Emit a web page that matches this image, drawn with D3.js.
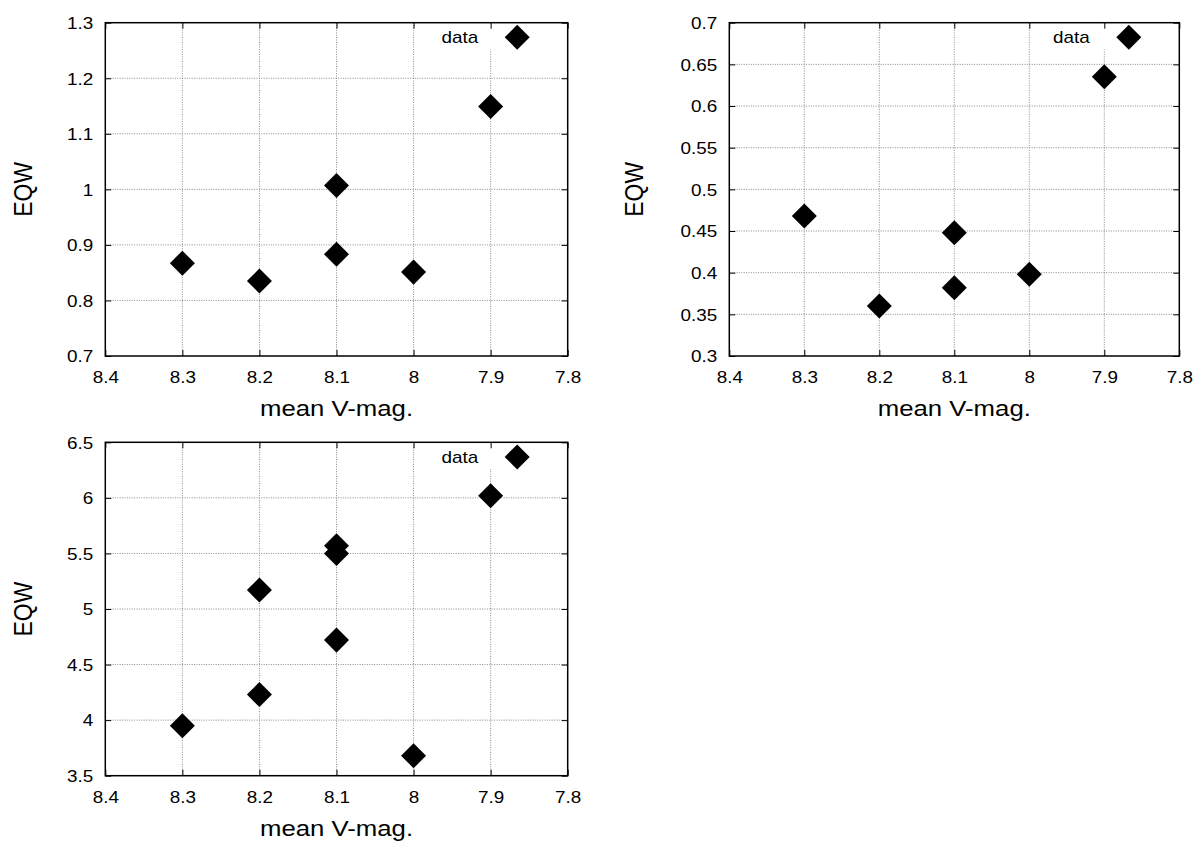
<!DOCTYPE html>
<html lang="en">
<head>
<meta charset="UTF-8">
<title>EQW vs mean V-mag.</title>
<script src="https://d3js.org/d3.v7.min.js"></script>
<style>
    body { margin: 0; background: #fff; }
    svg { display: block; font-family: "Liberation Sans", Arial, sans-serif; }
</style>
</head>
<body>
<script>
// tick labels
const magTicks = [8.4, 8.3, 8.2, 8.1, 8.0, 7.9, 7.8];
const eqwTicksA = [0.7, 0.8, 0.9, 1.0, 1.1, 1.2, 1.3];
const eqwTicksB = [0.3, 0.35, 0.4, 0.45, 0.5, 0.55, 0.6, 0.65, 0.7];
const eqwTicksC = [3.5, 4, 4.5, 5, 5.5, 6, 6.5];

// series values
const magA = [8.3, 8.2, 8.1, 8.1, 8.0, 7.9];
const eqwA = [0.867, 0.835, 1.007, 0.883, 0.851, 1.149];
const magB = [8.3, 8.2, 8.1, 8.1, 8.0, 7.9];
const eqwB = [0.468, 0.360, 0.448, 0.382, 0.398, 0.635];
const magC = [8.3, 8.2, 8.2, 8.1, 8.1, 8.1, 8.0, 7.9];
const eqwC = [3.95, 5.17, 4.23, 5.57, 5.50, 4.72, 3.68, 6.02];

const xLabel = "mean V-mag.";
const yLabel = "EQW";
const legendLabel = "data";

// layout of the three panels
const panels = [
    { left: 105.3, top: 22.7, w: 462.4, h: 333.3, mags: magA, eqws: eqwA, yTicks: eqwTicksA, ylab: 73.6 },
    { left: 729.3, top: 22.7, w: 450, h: 333.3, mags: magB, eqws: eqwB, yTicks: eqwTicksB, ylab: 86 },
    { left: 105.3, top: 442.3, w: 462.4, h: 333.4, mags: magC, eqws: eqwC, yTicks: eqwTicksC, ylab: 73.6 }
];

const width = 1200, height = 841;
const svg = d3.select("body").append("svg")
    .attr("width", width)
    .attr("height", height);

const fmt = d => String(+d.toFixed(2));
const sx = 1.18;      // text in the original is a bit wide
const sxLab = 1.12;
const tickLen = 6;
const diamond = d3.symbol(d3.symbolSquare, 313);

panels.forEach(p => {
    const g = svg.append("g").attr("transform", `translate(${p.left},${p.top})`);
    const x = d3.scaleLinear().domain([8.4, 7.8]).range([0, p.w]);
    const y = d3.scaleLinear().domain(d3.extent(p.yTicks)).range([p.h, 0]);

    // grid lines
    const grid = g.append("g")
        .attr("stroke", "#8a8a8a")
        .attr("stroke-width", 1)
        .attr("stroke-dasharray", "1,1.4");
    grid.selectAll("line.v").data(magTicks.slice(1, -1)).join("line")
        .attr("class", "v")
        .attr("x1", d => x(d)).attr("x2", d => x(d))
        .attr("y1", 0).attr("y2", p.h);
    grid.selectAll("line.h").data(p.yTicks.slice(1, -1)).join("line")
        .attr("class", "h")
        .attr("x1", 0).attr("x2", p.w)
        .attr("y1", d => y(d)).attr("y2", d => y(d));

    // key box (opaque)
    g.append("rect")
        .attr("x", p.w - 133).attr("y", 0.8)
        .attr("width", 132).attr("height", 26)
        .attr("fill", "#fff");

    // data points
    g.append("g")
        .selectAll("path")
        .data(p.mags.map((m, i) => [m, p.eqws[i]]))
        .join("path")
        .attr("d", diamond)
        .attr("transform", d => `translate(${x(d[0])},${y(d[1])}) rotate(45)`)
        .attr("fill", "#000");

    // axes with inward ticks
    const xAxis = g.append("g")
        .attr("transform", `translate(0,${p.h})`)
        .call(d3.axisBottom(x).tickValues(magTicks).tickFormat(fmt).tickSize(-tickLen).tickPadding(15.6));
    const yAxis = g.append("g")
        .call(d3.axisLeft(y).tickValues(p.yTicks).tickFormat(fmt).tickSize(-tickLen).tickPadding(12 / sx));
    g.append("g")
        .call(d3.axisTop(x).tickValues(magTicks).tickFormat("").tickSize(-tickLen));
    g.append("g")
        .attr("transform", `translate(${p.w},0)`)
        .call(d3.axisRight(y).tickValues(p.yTicks).tickFormat("").tickSize(-tickLen));

    g.selectAll(".domain").remove();
    g.selectAll(".tick line").attr("stroke", "#000");
    [xAxis, yAxis].forEach(a => a.selectAll("text")
        .attr("font-size", 16)
        .attr("font-family", "Liberation Sans, Arial, sans-serif")
        .attr("fill", "#000")
        .attr("transform", `scale(${sx},1)`));
    yAxis.selectAll("text").attr("dy", "0.36em");

    // frame
    g.append("rect")
        .attr("width", p.w).attr("height", p.h)
        .attr("fill", "none")
        .attr("stroke", "#000")
        .attr("stroke-width", 1.5);

    // key
    g.append("text")
        .attr("transform", `translate(${p.w - 89.5},15) scale(${sx},1)`)
        .attr("text-anchor", "end")
        .attr("dy", "0.36em")
        .attr("font-size", 16)
        .text(legendLabel);
    g.append("path")
        .attr("d", diamond)
        .attr("transform", `translate(${p.w - 50.5},14.6) rotate(45)`)
        .attr("fill", "#000");

    // axis titles
    g.append("text")
        .attr("transform", `translate(${p.w / 2},${p.h + 60}) scale(${sxLab},1)`)
        .attr("text-anchor", "middle")
        .attr("font-size", 23)
        .text(xLabel);
    g.append("text")
        .attr("transform", `translate(${-p.ylab},${p.h / 2}) scale(${sxLab},1) rotate(-90)`)
        .attr("text-anchor", "middle")
        .attr("font-size", 23)
        .text(yLabel);
});
</script>
</body>
</html>
